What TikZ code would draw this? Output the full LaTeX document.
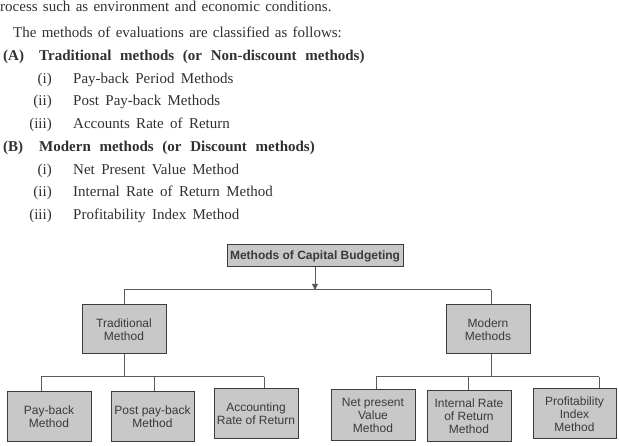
\documentclass[tikz,border=0pt]{standalone}
\usepackage{fontspec}
\setmainfont{Liberation Serif}
\setsansfont{Liberation Sans}
\usetikzlibrary{arrows.meta}
\definecolor{boxfill}{HTML}{C8C8C8}
\definecolor{boxline}{HTML}{3C3C3C}
\definecolor{linkcol}{HTML}{5A5A5A}
\definecolor{txtcol}{HTML}{3A3A3A}
\definecolor{bodycol}{HTML}{303030}
\newcommand\myBodyFont{\rmfamily\fontsize{15}{18}\selectfont\spaceskip 6.4pt\relax}
\newcommand\myParaFont{\rmfamily\fontsize{15}{18}\selectfont\spaceskip 5.3pt\relax}
\newcommand\myHeadFont{\rmfamily\bfseries\fontsize{15}{18}\selectfont\spaceskip 8.7pt\relax}
\tikzset{
  bodytext/.style={anchor=base west, inner sep=0pt, text=bodycol, font=\myBodyFont},
  paratext/.style={anchor=base west, inner sep=0pt, text=bodycol, font=\myParaFont},
  numtext/.style={anchor=base east, inner sep=0pt, text=bodycol, font=\myBodyFont},
  headtext/.style={anchor=base west, inner sep=0pt, text=bodycol, font=\myHeadFont},
  methodbox/.style={draw=boxline, fill=boxfill, line width=1pt, inner sep=0pt, align=center,
     text=txtcol, font=\sffamily\fontsize{12}{12.8}\selectfont},
  link/.style={draw=linkcol, line width=1pt},
}
\begin{document}
\begin{tikzpicture}[x=1pt,y=-1pt]
\useasboundingbox (0,0) rectangle (619,446);
% body text
\node[paratext] (l1) at (0,12) {rocess such as environment and economic conditions.};
\node[paratext] (l2) at (13,38) {The methods of evaluations are classified as follows:};
\node[headtext] (la) at (3,61) {(A)};
\node[headtext] (lat) at (39,61) {Traditional methods (or Non-discount methods)};
\node[numtext] (a1) at (52,84) {(i)};
\node[bodytext] (a1t) at (73,84) {Pay-back Period Methods};
\node[numtext] (a2) at (52,106) {(ii)};
\node[bodytext] (a2t) at (73,106) {Post Pay-back Methods};
\node[numtext] (a3) at (52,129) {(iii)};
\node[bodytext] (a3t) at (73,129) {Accounts Rate of Return};
\node[headtext] (lb) at (3,152) {(B)};
\node[headtext] (lbt) at (39,152) {Modern methods (or Discount methods)};
\node[numtext] (b1) at (52,175) {(i)};
\node[bodytext] (b1t) at (73,175) {Net Present Value Method};
\node[numtext] (b2) at (52,197) {(ii)};
\node[bodytext] (b2t) at (73,197) {Internal Rate of Return Method};
\node[numtext] (b3) at (52,220) {(iii)};
\node[bodytext] (b3t) at (73,220) {Profitability Index Method};
% diagram boxes
\node[methodbox, minimum width=176pt, minimum height=22pt, font=\sffamily\bfseries\fontsize{12}{13}\selectfont] (top) at (315,256) {Methods of Capital Budgeting};
\node[methodbox, minimum width=84pt, minimum height=49pt] (trad) at (124,329.5) {Traditional\\Method};
\node[methodbox, minimum width=84pt, minimum height=49pt] (mod) at (488,329.5) {Modern\\Methods};
\node[methodbox, minimum width=84pt, minimum height=50pt] (pay) at (49,417) {Pay-back\\Method};
\node[methodbox, minimum width=83pt, minimum height=50pt] (post) at (152.5,417) {Post pay-back\\Method};
\node[methodbox, minimum width=84pt, minimum height=50pt] (acc) at (256,414) {Accounting\\Rate of Return};
\node[methodbox, minimum width=84pt, minimum height=51pt] (npv) at (373,415.5) {Net present\\Value\\Method};
\node[methodbox, minimum width=84pt, minimum height=51pt] (irr) at (469,416.5) {Internal Rate\\of Return\\Method};
\node[methodbox, minimum width=83pt, minimum height=50pt] (pi) at (574.5,414) {Profitability\\Index\\Method};
% junction coordinates
\coordinate (hL) at (124,290);
\coordinate (hR) at (491,290);
\coordinate (lL) at (41,377);
\coordinate (lM) at (154,377);
\coordinate (lR) at (264,377);
\coordinate (rL) at (376,377);
\coordinate (rM) at (468,377);
\coordinate (rR) at (599,377);
% connectors
\draw[link] (hL) -- (hR);
\draw[link, -{Triangle[length=6pt,width=6pt]}] (top.south) -- (top.south |- hL);
\draw[link] (hL) -- (hL |- trad.north);
\draw[link] (hR) -- (hR |- mod.north);
\draw[link] (trad.south) -- (trad.south |- lL);
\draw[link] (lL) -- (lR);
\draw[link] (lL) -- (lL |- pay.north);
\draw[link] (lM) -- (lM |- post.north);
\draw[link] (lR) -- (lR |- acc.north);
\draw[link] (hR |- mod.south) -- (hR |- rL);
\draw[link] (rL) -- (rR);
\draw[link] (rL) -- (rL |- npv.north);
\draw[link] (rM) -- (rM |- irr.north);
\draw[link] (rR) -- (rR |- pi.north);
\end{tikzpicture}
\end{document}
